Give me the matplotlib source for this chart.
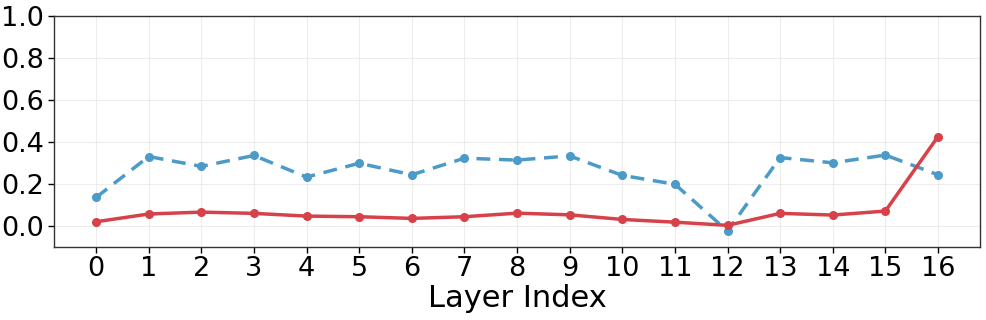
import matplotlib
matplotlib.use("Agg")
import matplotlib.pyplot as plt

layers = list(range(17))
blue_vals = [0.135, 0.330, 0.283, 0.335, 0.232, 0.298, 0.243, 0.322, 0.313, 0.333,
             0.240, 0.198, -0.025, 0.325, 0.300, 0.337, 0.243]
red_vals = [0.019, 0.056, 0.065, 0.059, 0.046, 0.043, 0.035, 0.043, 0.060, 0.052,
            0.030, 0.017, 0.002, 0.059, 0.051, 0.070, 0.425]
xlabel = "Layer Index"
yticks = [0.0, 0.2, 0.4, 0.6, 0.8, 1.0]

fig = plt.figure(figsize=(9.87, 3.2), dpi=100)
ax = fig.add_axes([0.0547, 0.229, 0.9383, 0.721])

ax.plot(layers, blue_vals, color="#4b9ac8", lw=2.5, ls=(0, (4, 2.5)), marker="o", ms=5.5, zorder=3)
ax.plot(layers, red_vals, color="#d7414a", lw=2.5, ls="-", marker="o", ms=5.5, zorder=4)

ax.set_xlim(-0.8, 16.8)
ax.set_ylim(-0.1, 1.0)
ax.set_xticks(layers)
ax.set_yticks(yticks)
ax.set_yticklabels([f"{v:.1f}" for v in yticks])
ax.tick_params(labelsize=19.5, length=4, width=1, colors="black", pad=3)
ax.set_xlabel(xlabel, fontsize=22, labelpad=1)
ax.grid(True, color="#e6e6e6", lw=0.8, alpha=0.7)
ax.set_axisbelow(True)
for s in ax.spines.values():
    s.set_color("#333333")
    s.set_linewidth(1.0)

fig.savefig("out.png", dpi=100)
